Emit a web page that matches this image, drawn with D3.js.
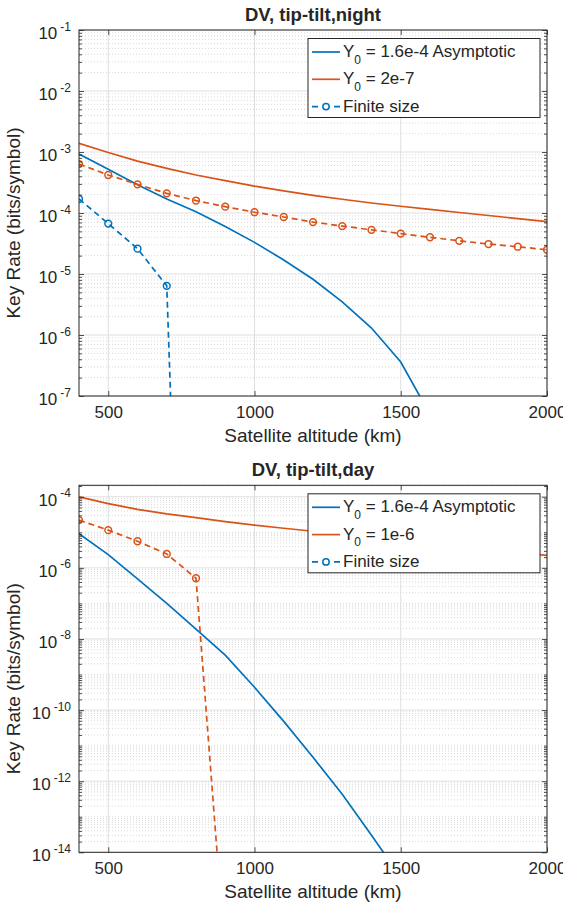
<!DOCTYPE html>
<html><head><meta charset="utf-8">
<script src="https://cdn.jsdelivr.net/npm/d3@7"></script>
<style>
body{margin:0;background:#fff}
text{font-family:"Liberation Sans",Arial,Helvetica,sans-serif;fill:#262626}
</style>
</head><body><svg id="chart" width="563" height="907" xmlns="http://www.w3.org/2000/svg"></svg>
<script>
// ---------- data ----------
const altitude = [400,500,600,700,800,900,1000,1100,1200,1300,1400,1500,1600,1700,1800,1900,2000];
const xTicks = [500,1000,1500,2000];
// night panel
const nightAsymptotic = [9.3e-4,5.2e-4,2.9e-4,1.7e-4,1.05e-4,6.0e-5,3.3e-5,1.7e-5,8.2e-6,3.5e-6,1.3e-6,3.6e-7,5e-8];
const nightY0 = [1.39e-3,9.8e-4,7.1e-4,5.4e-4,4.2e-4,3.4e-4,2.75e-4,2.3e-4,1.95e-4,1.68e-4,1.46e-4,1.29e-4,1.15e-4,1.02e-4,9.1e-5,8.1e-5,7.2e-5];
const nightFiniteAsymptotic = [1.7e-4,6.7e-5,2.6e-5,6.4e-6,8e-20];
const nightFiniteY0 = [6.35e-4,4.2e-4,2.95e-4,2.1e-4,1.6e-4,1.27e-4,1.03e-4,8.6e-5,7.1e-5,6.1e-5,5.3e-5,4.6e-5,4.0e-5,3.5e-5,3.1e-5,2.8e-5,2.5e-5];
// day panel
const dayAsymptotic = [9.1e-6,2.36e-6,4.9e-7,1.0e-7,1.9e-8,3.5e-9,4.4e-10,4.8e-11,4.7e-12,4.3e-13,3.0e-14,2.0e-15];
const dayY0 = [1.0e-4,6.4e-5,4.4e-5,3.3e-5,2.6e-5,2.0e-5,1.6e-5,1.3e-5,1.07e-5,8.7e-6,7.1e-6,5.8e-6,4.8e-6,4.0e-6,3.2e-6,2.7e-6,2.24e-6];
const dayFiniteY0 = [2.2e-5,1.15e-5,5.6e-6,2.46e-6,5.1e-7,1e-17];
// ticks / labels
const nightYTickExp = [-7,-6,-5,-4,-3,-2,-1];
const dayYTickExp = [-14,-12,-10,-8,-6,-4];
const nightYDomain = [1e-7,1e-1];
const dayYDomain = [1e-14,2.1e-4];
const legendNight = ["1.6e-4 Asymptotic","2e-7","Finite size"];
const legendDay = ["1.6e-4 Asymptotic","1e-6","Finite size"];
const titles = ["DV, tip-tilt,night","DV, tip-tilt,day"];
const xLabel = "Satellite altitude (km)";
const yLabel = "Key Rate (bits/symbol)";

// ---------- drawing ----------
const BLUE = "#0072BD", ORANGE = "#D95319", AX = "#262626";
const svg = d3.select("#chart");
const L = 79, R = 547;

function panel(o){
  const g = svg.append("g");
  const x = d3.scaleLinear().domain([400,2000]).range([L,R]);
  const y = d3.scaleLog().domain(o.yDomain).range([o.bottom,o.top]);
  const major = o.yTickExp.map(e => Math.pow(10,e));
  const minor = [];
  const e0 = Math.floor(Math.log10(o.yDomain[0])), e1 = Math.ceil(Math.log10(o.yDomain[1]));
  for (let e=e0; e<=e1; e++){
    for (let m=1; m<=9; m++){
      const v = m*Math.pow(10,e);
      if (v < o.yDomain[0]*0.999 || v > o.yDomain[1]*1.001) continue;
      if (m===1 && o.yTickExp.includes(e)) continue;
      minor.push(v);
    }
  }
  const cid = "clip"+o.id;
  svg.append("defs").append("clipPath").attr("id",cid)
    .append("rect").attr("x",L).attr("y",o.top).attr("width",R-L).attr("height",o.bottom-o.top);

  // grids
  g.append("g").selectAll("line").data(minor).join("line")
    .attr("x1",L).attr("x2",R).attr("y1",d=>y(d)).attr("y2",d=>y(d))
    .attr("stroke","#cfcfcf").attr("stroke-width",0.8).attr("stroke-dasharray","1,2");
  g.append("g").selectAll("line").data(major).join("line")
    .attr("x1",L).attr("x2",R).attr("y1",d=>y(d)).attr("y2",d=>y(d))
    .attr("stroke","#dfdfdf").attr("stroke-width",1);
  g.append("g").selectAll("line").data(xTicks).join("line")
    .attr("x1",d=>x(d)).attr("x2",d=>x(d)).attr("y1",o.top).attr("y2",o.bottom)
    .attr("stroke","#dfdfdf").attr("stroke-width",1);

  // series
  const plot = g.append("g").attr("clip-path",`url(#${cid})`);
  const line = d3.line().x((d,i)=>x(altitude[i])).y(d=>y(d));
  o.series.forEach(s=>{
    plot.append("path").datum(s.values).attr("d",line)
      .attr("fill","none").attr("stroke",s.color).attr("stroke-width",1.7)
      .attr("stroke-dasharray",s.dashed?"6,4":null);
    if (s.marker){
      plot.append("g").selectAll("circle").data(s.values).join("circle")
        .attr("cx",(d,i)=>x(altitude[i])).attr("cy",d=>y(d)).attr("r",3.4)
        .attr("fill","none").attr("stroke",s.color).attr("stroke-width",1.5);
    }
  });

  // axes
  const styleAxis = sel => { sel.select(".domain").remove(); sel.selectAll(".tick line").attr("stroke",AX).attr("stroke-width",0.8); };
  g.append("g").attr("transform",`translate(0,${o.bottom})`)
    .call(d3.axisBottom(x).tickValues(xTicks).tickSize(-5).tickPadding(10).tickFormat(d3.format("d")))
    .call(styleAxis)
    .selectAll("text").attr("font-size",17).attr("fill",AX).attr("font-family",null);
  g.append("g").attr("transform",`translate(0,${o.top})`)
    .call(d3.axisTop(x).tickValues(xTicks).tickSize(-5).tickFormat(""))
    .call(styleAxis);
  g.append("g").attr("transform",`translate(${L},0)`)
    .call(d3.axisLeft(y).tickValues(minor).tickSize(-3).tickFormat(""))
    .call(styleAxis);
  g.append("g").attr("transform",`translate(${R},0)`)
    .call(d3.axisRight(y).tickValues(minor).tickSize(-3).tickFormat(""))
    .call(styleAxis);
  g.append("g").attr("transform",`translate(${R},0)`)
    .call(d3.axisRight(y).tickValues(major).tickSize(-5).tickFormat(""))
    .call(styleAxis);
  const la = g.append("g").attr("transform",`translate(${L},0)`)
    .call(d3.axisLeft(y).tickValues(major).tickSize(-5).tickPadding(8).tickFormat(""))
    .call(styleAxis);
  la.selectAll(".tick text").each(function(d){
    const t = d3.select(this).attr("dy",null).attr("y",8.5).attr("font-size",17).attr("fill",AX).attr("font-family",null);
    t.text(null);
    t.append("tspan").text("10");
    t.append("tspan").attr("font-size",12).attr("dx",3).attr("dy",-8.5).text(String(Math.round(Math.log10(d))));
  });

  // box
  g.append("rect").attr("x",L).attr("y",o.top).attr("width",R-L).attr("height",o.bottom-o.top)
    .attr("fill","none").attr("stroke",AX).attr("stroke-width",1);

  // title & labels
  g.append("text").attr("x",(L+R)/2).attr("y",o.top-9).attr("text-anchor","middle")
    .attr("font-size",18.5).attr("font-weight","bold").text(o.title);
  g.append("text").attr("x",(L+R)/2).attr("y",o.bottom+46).attr("text-anchor","middle")
    .attr("font-size",19).text(xLabel);
  g.append("text").attr("transform",`translate(20,${(o.top+o.bottom)/2+10}) rotate(-90)`)
    .attr("text-anchor","middle").attr("font-size",19).text(yLabel);

  // legend
  const lg = g.append("g");
  const lx = 308, ly = o.top+8.5, lw = 232, lh = 79;
  lg.append("rect").attr("x",lx).attr("y",ly).attr("width",lw).attr("height",lh)
    .attr("fill","#fff").attr("stroke",AX).attr("stroke-width",1);
  const entries = [
    {label:o.legend[0], color:BLUE, dashed:false, marker:false, sub:true},
    {label:o.legend[1], color:ORANGE, dashed:false, marker:false, sub:true},
    {label:o.legend[2], color:BLUE, dashed:true, marker:true, sub:false}
  ];
  entries.forEach((e,i)=>{
    const cy = ly + 13.5 + i*27.3;
    lg.append("line").attr("x1",lx+4).attr("x2",lx+32).attr("y1",cy).attr("y2",cy)
      .attr("stroke",e.color).attr("stroke-width",1.7).attr("stroke-dasharray",e.dashed?"6,5":null);
    if (e.marker) lg.append("circle").attr("cx",lx+18).attr("cy",cy).attr("r",3.2)
      .attr("fill","#fff").attr("stroke",e.color).attr("stroke-width",1.5);
    const t = lg.append("text").attr("x",lx+35).attr("y",cy+5).attr("font-size",17);
    if (e.sub){
      t.append("tspan").text("Y");
      t.append("tspan").attr("font-size",12).attr("dy",6.5).text("0");
      t.append("tspan").attr("dy",-6.5).text(" = "+e.label);
    } else t.text(e.label);
  });
}

panel({id:"n", top:30, bottom:396, yDomain:nightYDomain, yTickExp:nightYTickExp, title:titles[0], legend:legendNight,
  series:[
    {values:nightAsymptotic, color:BLUE},
    {values:nightY0, color:ORANGE},
    {values:nightFiniteAsymptotic, color:BLUE, dashed:true, marker:true},
    {values:nightFiniteY0, color:ORANGE, dashed:true, marker:true}
  ]});
panel({id:"d", top:485.3, bottom:852.3, yDomain:dayYDomain, yTickExp:dayYTickExp, title:titles[1], legend:legendDay,
  series:[
    {values:dayAsymptotic, color:BLUE},
    {values:dayY0, color:ORANGE},
    {values:dayFiniteY0, color:ORANGE, dashed:true, marker:true}
  ]});
</script>
</body></html>
